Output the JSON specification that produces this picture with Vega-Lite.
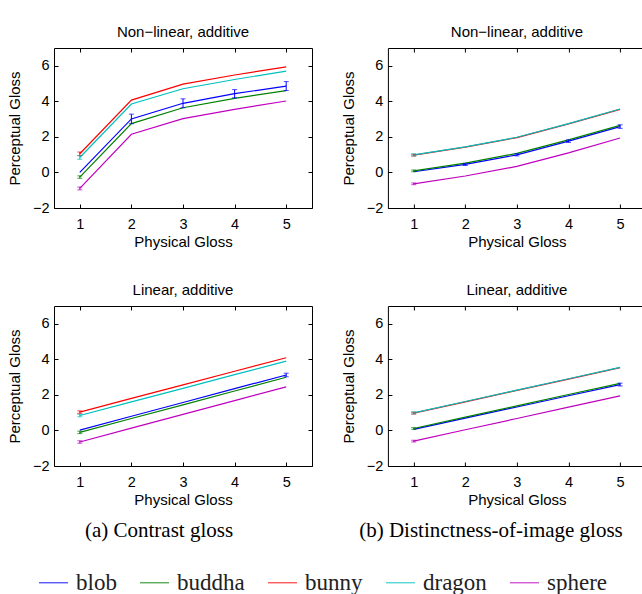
{
  "$schema": "https://vega.github.io/schema/vega-lite/v6.json",
  "background": "white",
  "padding": {"left": 6, "top": 24, "right": 0, "bottom": 0},
  "config": {
    "font": "Liberation Sans",
    "view": {"stroke": "black", "strokeWidth": 1},
    "axis": {"grid": false, "domain": false, "tickColor": "black", "tickSize": -4, "tickWidth": 1,
      "labelFont": "Liberation Sans", "labelFontSize": 14.5, "labelColor": "black",
      "titleFont": "Liberation Sans", "titleFontSize": 15, "titleFontWeight": "normal", "titleColor": "black"},
    "axisX": {"labelPadding": 13, "titlePadding": 4},
    "axisY": {"labelPadding": 9, "titlePadding": 10},
    "title": {"font": "Liberation Sans", "fontSize": 15, "fontWeight": "normal", "color": "black", "offset": 8}
  },
  "data": {"values": [
    {"c":"a","m":"N","s":"blob","x":1,"y":0.0},
    {"c":"a","m":"N","s":"blob","x":2,"y":3.01,"lo":2.74,"hi":3.28},
    {"c":"a","m":"N","s":"blob","x":3,"y":3.89,"lo":3.64,"hi":4.14},
    {"c":"a","m":"N","s":"blob","x":4,"y":4.43,"lo":4.2,"hi":4.66},
    {"c":"a","m":"N","s":"blob","x":5,"y":4.86,"lo":4.61,"hi":5.11},
    {"c":"a","m":"N","s":"buddha","x":1,"y":-0.26,"lo":-0.33,"hi":-0.19},
    {"c":"a","m":"N","s":"buddha","x":2,"y":2.75},
    {"c":"a","m":"N","s":"buddha","x":3,"y":3.64},
    {"c":"a","m":"N","s":"buddha","x":4,"y":4.17},
    {"c":"a","m":"N","s":"buddha","x":5,"y":4.6},
    {"c":"a","m":"N","s":"bunny","x":1,"y":1.05,"lo":0.95,"hi":1.15},
    {"c":"a","m":"N","s":"bunny","x":2,"y":4.07},
    {"c":"a","m":"N","s":"bunny","x":3,"y":4.97},
    {"c":"a","m":"N","s":"bunny","x":4,"y":5.48},
    {"c":"a","m":"N","s":"bunny","x":5,"y":5.94},
    {"c":"a","m":"N","s":"dragon","x":1,"y":0.84,"lo":0.74,"hi":0.94},
    {"c":"a","m":"N","s":"dragon","x":2,"y":3.85},
    {"c":"a","m":"N","s":"dragon","x":3,"y":4.71},
    {"c":"a","m":"N","s":"dragon","x":4,"y":5.23},
    {"c":"a","m":"N","s":"dragon","x":5,"y":5.7},
    {"c":"a","m":"N","s":"sphere","x":1,"y":-0.9,"lo":-0.98,"hi":-0.82},
    {"c":"a","m":"N","s":"sphere","x":2,"y":2.15},
    {"c":"a","m":"N","s":"sphere","x":3,"y":3.03},
    {"c":"a","m":"N","s":"sphere","x":4,"y":3.55},
    {"c":"a","m":"N","s":"sphere","x":5,"y":4.02},

    {"c":"b","m":"N","s":"blob","x":1,"y":0.04},
    {"c":"b","m":"N","s":"blob","x":2,"y":0.45,"lo":0.39,"hi":0.51},
    {"c":"b","m":"N","s":"blob","x":3,"y":0.99,"lo":0.93,"hi":1.05},
    {"c":"b","m":"N","s":"blob","x":4,"y":1.76,"lo":1.69,"hi":1.83},
    {"c":"b","m":"N","s":"blob","x":5,"y":2.58,"lo":2.48,"hi":2.68},
    {"c":"b","m":"N","s":"buddha","x":1,"y":0.09,"lo":0.04,"hi":0.14},
    {"c":"b","m":"N","s":"buddha","x":2,"y":0.52},
    {"c":"b","m":"N","s":"buddha","x":3,"y":1.07},
    {"c":"b","m":"N","s":"buddha","x":4,"y":1.83},
    {"c":"b","m":"N","s":"buddha","x":5,"y":2.65},
    {"c":"b","m":"N","s":"bunny","x":1,"y":0.97,"lo":0.92,"hi":1.02},
    {"c":"b","m":"N","s":"bunny","x":2,"y":1.42},
    {"c":"b","m":"N","s":"bunny","x":3,"y":1.96},
    {"c":"b","m":"N","s":"bunny","x":4,"y":2.73},
    {"c":"b","m":"N","s":"bunny","x":5,"y":3.55},
    {"c":"b","m":"N","s":"dragon","x":1,"y":0.99,"lo":0.93,"hi":1.05},
    {"c":"b","m":"N","s":"dragon","x":2,"y":1.44},
    {"c":"b","m":"N","s":"dragon","x":3,"y":1.98},
    {"c":"b","m":"N","s":"dragon","x":4,"y":2.75},
    {"c":"b","m":"N","s":"dragon","x":5,"y":3.57},
    {"c":"b","m":"N","s":"sphere","x":1,"y":-0.64,"lo":-0.69,"hi":-0.59},
    {"c":"b","m":"N","s":"sphere","x":2,"y":-0.2},
    {"c":"b","m":"N","s":"sphere","x":3,"y":0.34},
    {"c":"b","m":"N","s":"sphere","x":4,"y":1.1},
    {"c":"b","m":"N","s":"sphere","x":5,"y":1.94},

    {"c":"a","m":"L","s":"blob","x":1,"y":0.02},
    {"c":"a","m":"L","s":"blob","x":2,"y":0.8},
    {"c":"a","m":"L","s":"blob","x":3,"y":1.57},
    {"c":"a","m":"L","s":"blob","x":4,"y":2.35},
    {"c":"a","m":"L","s":"blob","x":5,"y":3.12,"lo":3.02,"hi":3.22},
    {"c":"a","m":"L","s":"buddha","x":1,"y":-0.11,"lo":-0.18,"hi":-0.04},
    {"c":"a","m":"L","s":"buddha","x":2,"y":0.67},
    {"c":"a","m":"L","s":"buddha","x":3,"y":1.44},
    {"c":"a","m":"L","s":"buddha","x":4,"y":2.22},
    {"c":"a","m":"L","s":"buddha","x":5,"y":2.99},
    {"c":"a","m":"L","s":"bunny","x":1,"y":1.03,"lo":0.96,"hi":1.1},
    {"c":"a","m":"L","s":"bunny","x":2,"y":1.8},
    {"c":"a","m":"L","s":"bunny","x":3,"y":2.56},
    {"c":"a","m":"L","s":"bunny","x":4,"y":3.33},
    {"c":"a","m":"L","s":"bunny","x":5,"y":4.09},
    {"c":"a","m":"L","s":"dragon","x":1,"y":0.84,"lo":0.77,"hi":0.91},
    {"c":"a","m":"L","s":"dragon","x":2,"y":1.61},
    {"c":"a","m":"L","s":"dragon","x":3,"y":2.37},
    {"c":"a","m":"L","s":"dragon","x":4,"y":3.14},
    {"c":"a","m":"L","s":"dragon","x":5,"y":3.9},
    {"c":"a","m":"L","s":"sphere","x":1,"y":-0.65,"lo":-0.72,"hi":-0.58},
    {"c":"a","m":"L","s":"sphere","x":2,"y":0.13},
    {"c":"a","m":"L","s":"sphere","x":3,"y":0.9},
    {"c":"a","m":"L","s":"sphere","x":4,"y":1.68},
    {"c":"a","m":"L","s":"sphere","x":5,"y":2.45},

    {"c":"b","m":"L","s":"blob","x":1,"y":0.06},
    {"c":"b","m":"L","s":"blob","x":2,"y":0.69},
    {"c":"b","m":"L","s":"blob","x":3,"y":1.32},
    {"c":"b","m":"L","s":"blob","x":4,"y":1.95},
    {"c":"b","m":"L","s":"blob","x":5,"y":2.58,"lo":2.5,"hi":2.66},
    {"c":"b","m":"L","s":"buddha","x":1,"y":0.11,"lo":0.06,"hi":0.16},
    {"c":"b","m":"L","s":"buddha","x":2,"y":0.75},
    {"c":"b","m":"L","s":"buddha","x":3,"y":1.38},
    {"c":"b","m":"L","s":"buddha","x":4,"y":2.02},
    {"c":"b","m":"L","s":"buddha","x":5,"y":2.65},
    {"c":"b","m":"L","s":"bunny","x":1,"y":0.97,"lo":0.92,"hi":1.02},
    {"c":"b","m":"L","s":"bunny","x":2,"y":1.61},
    {"c":"b","m":"L","s":"bunny","x":3,"y":2.25},
    {"c":"b","m":"L","s":"bunny","x":4,"y":2.89},
    {"c":"b","m":"L","s":"bunny","x":5,"y":3.53},
    {"c":"b","m":"L","s":"dragon","x":1,"y":0.99,"lo":0.93,"hi":1.05},
    {"c":"b","m":"L","s":"dragon","x":2,"y":1.63},
    {"c":"b","m":"L","s":"dragon","x":3,"y":2.27},
    {"c":"b","m":"L","s":"dragon","x":4,"y":2.91},
    {"c":"b","m":"L","s":"dragon","x":5,"y":3.55},
    {"c":"b","m":"L","s":"sphere","x":1,"y":-0.6,"lo":-0.65,"hi":-0.55},
    {"c":"b","m":"L","s":"sphere","x":2,"y":0.04},
    {"c":"b","m":"L","s":"sphere","x":3,"y":0.67},
    {"c":"b","m":"L","s":"sphere","x":4,"y":1.31},
    {"c":"b","m":"L","s":"sphere","x":5,"y":1.94}
  ]},
  "spacing": 26.9,
  "hconcat": [
    {
      "spacing": 32,
      "title": {"text": "(a)  Contrast gloss", "orient": "bottom", "font": "Liberation Serif", "fontSize": 21, "dx": 78, "offset": 12},
      "vconcat": [
        {
          "width": 258, "height": 160,
          "title": "Non−linear, additive",
          "transform": [{"filter": "datum.c === 'a' && datum.m === 'N'"}],
          "layer": [
            {"mark": {"type": "line", "strokeWidth": 1.2},
             "encoding": {
               "x": {"field": "x", "type": "quantitative", "scale": {"domain": [0.5, 5.5], "nice": false, "zero": false}, "axis": {"values": [1,2,3,4,5], "title": "Physical Gloss", "format": "d"}},
               "y": {"field": "y", "type": "quantitative", "scale": {"domain": [-2, 7], "nice": false, "zero": false}, "axis": {"values": [-2,0,2,4,6], "title": "Perceptual Gloss"}},
               "color": {"field": "s", "type": "nominal", "scale": {"domain": ["blob","buddha","bunny","dragon","sphere"], "range": ["#0000ff","#008000","#ff0000","#00bfbf","#bf00bf"]},
                 "legend": {"orient": "none", "legendX": -16, "legendY": 519, "direction": "horizontal", "title": null, "symbolType": "stroke", "symbolSize": 841, "symbolStrokeWidth": 1.3, "labelFont": "Liberation Serif", "labelFontSize": 23, "labelColor": "#222", "labelOffset": 7, "columnPadding": 20}}
             }},
            {"transform": [{"filter": "isValid(datum.lo)"}],
             "mark": {"type": "errorbar", "ticks": {"size": 5}},
             "encoding": {
               "x": {"field": "x", "type": "quantitative", "axis": {"orient": "top", "labels": false, "title": null, "values": [1,2,3,4,5]}},
               "y": {"field": "lo", "type": "quantitative", "axis": {"orient": "right", "labels": false, "title": null, "values": [-2,0,2,4,6]}},
               "y2": {"field": "hi"},
               "color": {"field": "s", "type": "nominal"}
             }}
          ],
          "resolve": {"axis": {"x": "independent", "y": "independent"}}
        },
        {
          "width": 258, "height": 160,
          "title": "Linear, additive",
          "transform": [{"filter": "datum.c === 'a' && datum.m === 'L'"}],
          "layer": [
            {"mark": {"type": "line", "strokeWidth": 1.2},
             "encoding": {
               "x": {"field": "x", "type": "quantitative", "scale": {"domain": [0.5, 5.5], "nice": false, "zero": false}, "axis": {"values": [1,2,3,4,5], "title": "Physical Gloss", "format": "d"}},
               "y": {"field": "y", "type": "quantitative", "scale": {"domain": [-2, 7], "nice": false, "zero": false}, "axis": {"values": [-2,0,2,4,6], "title": "Perceptual Gloss"}},
               "color": {"field": "s", "type": "nominal"}
             }},
            {"transform": [{"filter": "isValid(datum.lo)"}],
             "mark": {"type": "errorbar", "ticks": {"size": 5}},
             "encoding": {
               "x": {"field": "x", "type": "quantitative", "axis": {"orient": "top", "labels": false, "title": null, "values": [1,2,3,4,5]}},
               "y": {"field": "lo", "type": "quantitative", "axis": {"orient": "right", "labels": false, "title": null, "values": [-2,0,2,4,6]}},
               "y2": {"field": "hi"},
               "color": {"field": "s", "type": "nominal"}
             }}
          ],
          "resolve": {"axis": {"x": "independent", "y": "independent"}}
        }
      ]
    },
    {
      "spacing": 32,
      "title": {"text": "(b)  Distinctness-of-image gloss", "orient": "bottom", "font": "Liberation Serif", "fontSize": 21, "dx": 18.3, "offset": 12},
      "vconcat": [
        {
          "width": 258, "height": 160,
          "title": "Non−linear, additive",
          "transform": [{"filter": "datum.c === 'b' && datum.m === 'N'"}],
          "layer": [
            {"mark": {"type": "line", "strokeWidth": 1.2},
             "encoding": {
               "x": {"field": "x", "type": "quantitative", "scale": {"domain": [0.5, 5.5], "nice": false, "zero": false}, "axis": {"values": [1,2,3,4,5], "title": "Physical Gloss", "format": "d"}},
               "y": {"field": "y", "type": "quantitative", "scale": {"domain": [-2, 7], "nice": false, "zero": false}, "axis": {"values": [-2,0,2,4,6], "title": "Perceptual Gloss"}},
               "color": {"field": "s", "type": "nominal"}
             }},
            {"transform": [{"filter": "isValid(datum.lo)"}],
             "mark": {"type": "errorbar", "ticks": {"size": 5}},
             "encoding": {
               "x": {"field": "x", "type": "quantitative", "axis": {"orient": "top", "labels": false, "title": null, "values": [1,2,3,4,5]}},
               "y": {"field": "lo", "type": "quantitative", "axis": {"orient": "right", "labels": false, "title": null, "values": [-2,0,2,4,6]}},
               "y2": {"field": "hi"},
               "color": {"field": "s", "type": "nominal"}
             }}
          ],
          "resolve": {"axis": {"x": "independent", "y": "independent"}}
        },
        {
          "width": 258, "height": 160,
          "title": "Linear, additive",
          "transform": [{"filter": "datum.c === 'b' && datum.m === 'L'"}],
          "layer": [
            {"mark": {"type": "line", "strokeWidth": 1.2},
             "encoding": {
               "x": {"field": "x", "type": "quantitative", "scale": {"domain": [0.5, 5.5], "nice": false, "zero": false}, "axis": {"values": [1,2,3,4,5], "title": "Physical Gloss", "format": "d"}},
               "y": {"field": "y", "type": "quantitative", "scale": {"domain": [-2, 7], "nice": false, "zero": false}, "axis": {"values": [-2,0,2,4,6], "title": "Perceptual Gloss"}},
               "color": {"field": "s", "type": "nominal"}
             }},
            {"transform": [{"filter": "isValid(datum.lo)"}],
             "mark": {"type": "errorbar", "ticks": {"size": 5}},
             "encoding": {
               "x": {"field": "x", "type": "quantitative", "axis": {"orient": "top", "labels": false, "title": null, "values": [1,2,3,4,5]}},
               "y": {"field": "lo", "type": "quantitative", "axis": {"orient": "right", "labels": false, "title": null, "values": [-2,0,2,4,6]}},
               "y2": {"field": "hi"},
               "color": {"field": "s", "type": "nominal"}
             }}
          ],
          "resolve": {"axis": {"x": "independent", "y": "independent"}}
        }
      ]
    }
  ]
}
